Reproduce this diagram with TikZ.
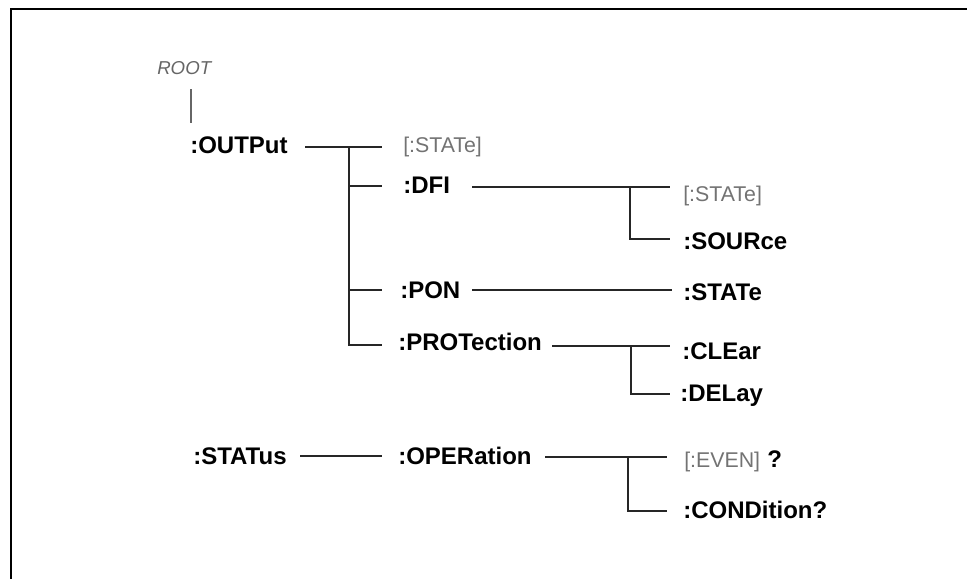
\documentclass[tikz,border=0pt]{standalone}
\usepackage{fontspec}
\setmainfont{Liberation Sans}
\begin{document}
\begin{tikzpicture}[x=0.75pt,y=-0.75pt,
  kw/.style={anchor=base west,inner sep=0pt,font=\fontsize{18}{20}\selectfont\bfseries,text=black},
  opt/.style={anchor=base west,inner sep=0pt,font=\fontsize{16}{18}\selectfont,text=black!55},
  rootlbl/.style={anchor=base west,inner sep=0pt,font=\fontsize{14}{16}\selectfont\itshape,text=black!60},
  link/.style={draw=black!85,line width=0.8pt},
  frame/.style={draw=black,line width=1.6pt}]
\useasboundingbox (0,0) rectangle (967,579);
% frame (open to the right and bottom)
\coordinate (fTR) at (967,9);
\coordinate (fTL) at (11,9);
\coordinate (fBL) at (11,579);
\draw[frame] (fTR) -- (fTL) -- (fBL);

% nodes
\node[rootlbl] (root) at (157,74) {ROOT};
\node[kw] (out) at (190,153) {:OUTPut};
\node[opt] (st1) at (403,152) {[:STATe]};
\node[kw] (dfi) at (403,193) {:DFI};
\node[opt] (st2) at (683,201) {[:STATe]};
\node[kw] (src) at (683,249) {:SOURce};
\node[kw] (pon) at (400,298) {:PON};
\node[kw] (st3) at (683,300) {:STATe};
\node[kw] (prot) at (398,350) {:PROTection};
\node[kw] (clr) at (682,359) {:CLEar};
\node[kw] (dly) at (680,401) {:DELay};
\node[kw] (stat) at (193,464) {:STATus};
\node[kw] (oper) at (398,464) {:OPERation};
\node[opt] (even) at (684,467) {[:EVEN]\,\,{\fontsize{18}{20}\selectfont\bfseries\color{black}?}};
\node[kw] (cond) at (683,518) {:CONDition?};

% ROOT to OUTPut
\coordinate (r1) at (191,89);
\coordinate (r2) at (191,123);
\draw[link,draw=black!60] (r1) -- (r2);

% OUTPut subtree
\coordinate (oA) at (305,147);
\coordinate (oJ) at (349,147);
\coordinate (oB) at (382,147);
\coordinate (oDfi) at (382,186);
\coordinate (oPon) at (382,290);
\coordinate (oProt) at (382,345);
\draw[link] (oA) -- (oB);
\draw[link] (oJ) |- (oProt);
\draw[link] (oJ |- oDfi) -- (oDfi);
\draw[link] (oJ |- oPon) -- (oPon);

% DFI subtree
\coordinate (dA) at (472,187);
\coordinate (dJ) at (630,187);
\coordinate (dB) at (670,187);
\coordinate (dSrc) at (670,239);
\draw[link] (dA) -- (dB);
\draw[link] (dJ) |- (dSrc);

% PON
\coordinate (pA) at (472,290);
\coordinate (pB) at (672,290);
\draw[link] (pA) -- (pB);

% PROTection subtree
\coordinate (tA) at (552,346);
\coordinate (tJ) at (631,346);
\coordinate (tB) at (670,346);
\coordinate (tDly) at (670,394);
\draw[link] (tA) -- (tB);
\draw[link] (tJ) |- (tDly);

% STATus
\coordinate (sA) at (300,456);
\coordinate (sB) at (382,456);
\draw[link] (sA) -- (sB);

% OPERation subtree
\coordinate (qA) at (545,457);
\coordinate (qJ) at (628,457);
\coordinate (qB) at (667,457);
\coordinate (qCond) at (667,511);
\draw[link] (qA) -- (qB);
\draw[link] (qJ) |- (qCond);
\end{tikzpicture}
\end{document}
